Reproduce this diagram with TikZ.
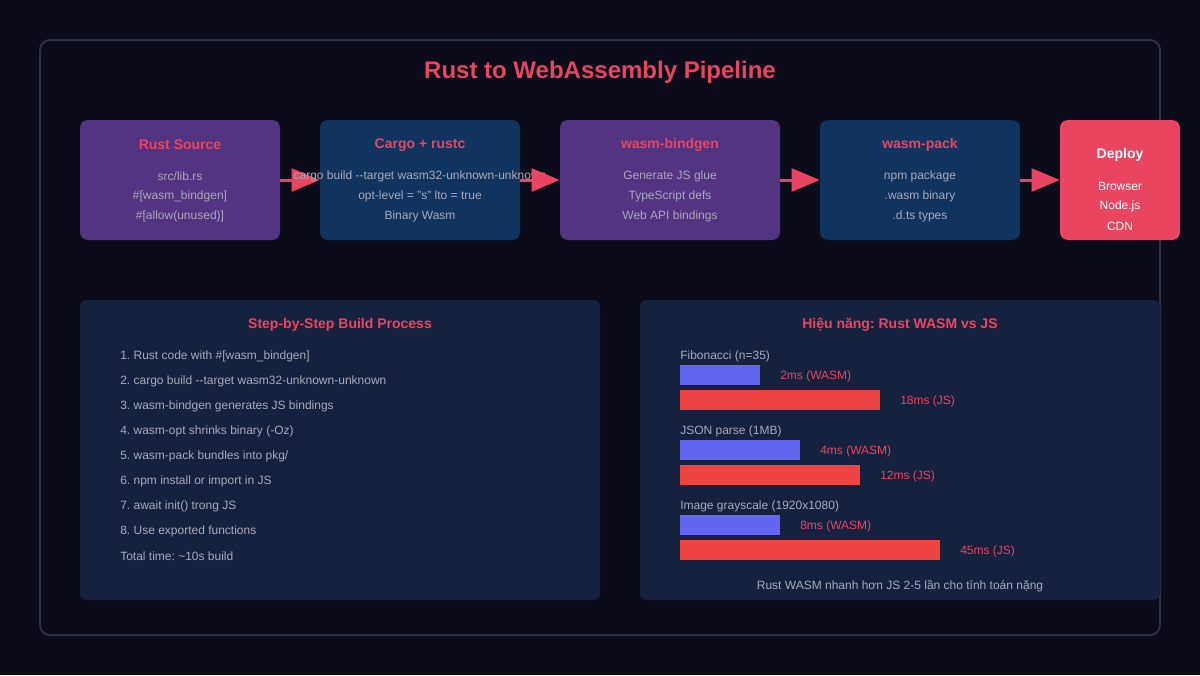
\documentclass[tikz,border=0pt]{standalone}
\usepackage{fontspec}
\setmainfont{Liberation Sans}
\usetikzlibrary{arrows.meta}
\frenchspacing
\definecolor{bg}{HTML}{0B0B1A}
\definecolor{frame}{HTML}{2A3045}
\definecolor{accent}{HTML}{E94560}
\definecolor{purp}{HTML}{533483}
\definecolor{navy}{HTML}{0F3460}
\definecolor{panel}{HTML}{16213E}
\definecolor{txt}{HTML}{A9A9B8}
\definecolor{barblue}{HTML}{6366F1}
\definecolor{barred}{HTML}{EF4444}
\tikzset{
  stagebox/.style={rounded corners=6pt, minimum height=90pt, inner sep=0pt, draw=none},
  stagetitle/.style={font=\fontsize{10.5}{12}\selectfont\bfseries, text=accent, inner sep=0pt},
  stageline/.style={font=\fontsize{9}{11}\selectfont, text=txt, inner sep=0pt},
  flow/.style={draw=accent, line width=2.25pt, -{Triangle[length=21pt,width=17pt]}},
  paneltitle/.style={font=\fontsize{10.5}{12}\selectfont\bfseries, text=accent, inner sep=0pt},
  item/.style={font=\fontsize{9}{11}\selectfont, text=txt, anchor=west, inner sep=0pt},
  barlabel/.style={font=\fontsize{9}{11}\selectfont, text=accent, anchor=west, inner sep=0pt},
}
\begin{document}
\begin{tikzpicture}[x=0.75pt,y=-0.75pt]
\fill[bg] (0,0) rectangle (1200,675);
\useasboundingbox (0,0) rectangle (1200,675);
\draw[frame, line width=1.5pt, rounded corners=7.5pt] (40,40) rectangle (1160,635);
\node[font=\fontsize{18}{21}\selectfont\bfseries, text=accent] (title) at (600,72) {Rust to WebAssembly Pipeline};

% stage boxes
\node[stagebox, fill=purp, minimum width=150pt] (b1) at (180,180) {};
\node[stagebox, fill=navy, minimum width=150pt] (b2) at (420,180) {};
\node[stagebox, fill=purp, minimum width=165pt] (b3) at (670,180) {};
\node[stagebox, fill=navy, minimum width=150pt] (b4) at (920,180) {};
\node[stagebox, fill=accent, minimum width=90pt] (b5) at (1120,180) {};

% box 1
\node[stagetitle] (t1) at (180,145) {Rust Source};
\node[stageline] (l11) at (180,176) {src/lib.rs};
\node[stageline] (l12) at (180,196) {\#[wasm\_bindgen]};
\node[stageline] (l13) at (180,216) {\#[allow(unused)]};

\draw[flow] (b1.east) -- (b2.west);

% box 2
\node[stagetitle] (t2) at (420,145) {Cargo + rustc};
\node[stageline] (l21) at (420,176) {cargo build -{}-target wasm32-unknown-unknown};
\node[stageline] (l22) at (420,196) {opt-level = "s" lto = true};
\node[stageline] (l23) at (420,216) {Binary Wasm};

\draw[flow] (b2.east) -- (b3.west);

% box 3
\node[stagetitle] (t3) at (670,145) {wasm-bindgen};
\node[stageline] (l31) at (670,176) {Generate JS glue};
\node[stageline] (l32) at (670,196) {TypeScript defs};
\node[stageline] (l33) at (670,216) {Web API bindings};

\draw[flow] (b3.east) -- (b4.west);

% box 4
\node[stagetitle] (t4) at (920,145) {wasm-pack};
\node[stageline] (l41) at (920,176) {npm package};
\node[stageline] (l42) at (920,196) {.wasm binary};
\node[stageline] (l43) at (920,216) {.d.ts types};

\draw[flow] (b4.east) -- (b5.west);

% box 5
\node[stagetitle, text=white] (t5) at (1120,155) {Deploy};
\node[stageline, text=white] (l51) at (1120,186) {Browser};
\node[stageline, text=white] (l52) at (1120,206) {Node.js};
\node[stageline, text=white] (l53) at (1120,226) {CDN};

% left panel
\fill[panel, rounded corners=5pt] (80,300) rectangle (600,600);
\node[paneltitle] (pt1) at (340,325) {Step-by-Step Build Process};
\node[item] (s1) at (120,356) {1. Rust code with \#[wasm\_bindgen]};
\node[item] (s2) at (120,381) {2. cargo build -{}-target wasm32-unknown-unknown};
\node[item] (s3) at (120,406) {3. wasm-bindgen generates JS bindings};
\node[item] (s4) at (120,431) {4. wasm-opt shrinks binary (-Oz)};
\node[item] (s5) at (120,456) {5. wasm-pack bundles into pkg/};
\node[item] (s6) at (120,481) {6. npm install or import in JS};
\node[item] (s7) at (120,506) {7. await init() trong JS};
\node[item] (s8) at (120,531) {8. Use exported functions};
\node[item] (s9) at (120,556) {Total time: \textasciitilde10s build};

% right panel
\fill[panel, rounded corners=5pt] (640,300) rectangle (1160,600);
\node[paneltitle] (pt2) at (900,325) {Hiệu năng: Rust WASM vs JS};

\node[item] (c1) at (680,356) {Fibonacci (n=35)};
\fill[barblue] (680,365) rectangle (760,385);
\node[barlabel] (v1) at (780,376) {2ms (WASM)};
\fill[barred] (680,390) rectangle (880,410);
\node[barlabel] (j1) at (900,401) {18ms (JS)};

\node[item] (c2) at (680,431) {JSON parse (1MB)};
\fill[barblue] (680,440) rectangle (800,460);
\node[barlabel] (v2) at (820,451) {4ms (WASM)};
\fill[barred] (680,465) rectangle (860,485);
\node[barlabel] (j2) at (880,476) {12ms (JS)};

\node[item] (c3) at (680,506) {Image grayscale (1920x1080)};
\fill[barblue] (680,515) rectangle (780,535);
\node[barlabel] (v3) at (800,526) {8ms (WASM)};
\fill[barred] (680,540) rectangle (940,560);
\node[barlabel] (j3) at (960,551) {45ms (JS)};

\node[stageline] (foot) at (900,586) {Rust WASM nhanh hơn JS 2-5 lần cho tính toán nặng};
\end{tikzpicture}
\end{document}
